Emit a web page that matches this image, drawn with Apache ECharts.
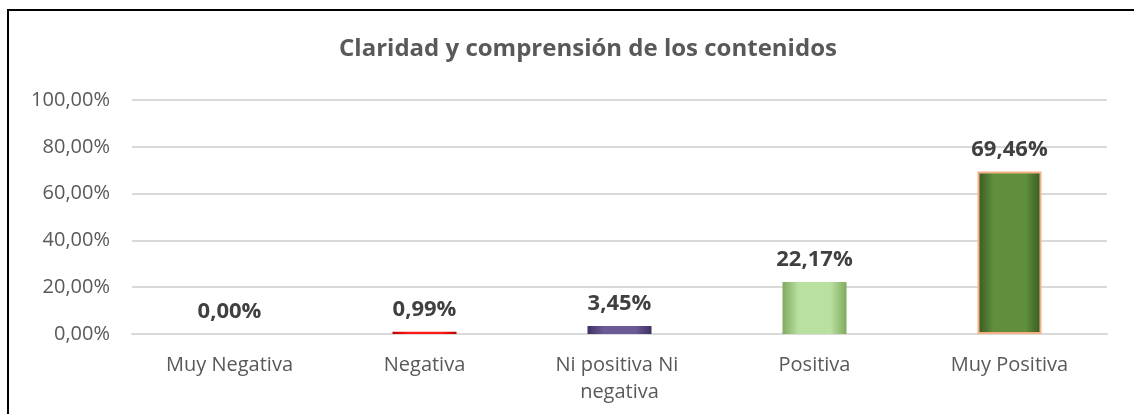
<!DOCTYPE html>
<html lang="es">
<head>
    <meta charset="UTF-8">
    <title>Claridad y comprensión de los contenidos</title>
    <script src="https://cdn.jsdelivr.net/npm/echarts@6/dist/echarts.min.js"></script>
    <style>
        html, body { margin: 0; padding: 0; background: #fff; }
        #container { width: 1134px; height: 414px; }
    </style>
</head>
<body>
<div id="container"></div>
<script>
    var categories = ['Muy Negativa', 'Negativa', 'Ni positiva Ni negativa', 'Positiva', 'Muy Positiva'];
    var values = [0.00, 0.99, 3.45, 22.17, 69.46];
    var yTicks = [0, 20, 40, 60, 80, 100];

    // colores de cada barra: [borde oscuro, centro claro]
    var barColors = [
        ['#7f7f7f', '#bfbfbf'],
        ['#c00000', '#ff1a1a'],
        ['#3f3163', '#6a5a96'],
        ['#7faa5e', '#b9e0a0'],
        ['#385723', '#5f8f3c']
    ];

    function fmt(v) {
        return v.toFixed(2).replace('.', ',') + '%';
    }

    var dom = document.getElementById('container');
    var myChart = echarts.init(dom);

    var data = values.map(function (v, i) {
        return {
            value: v,
            itemStyle: {
                color: new echarts.graphic.LinearGradient(0, 0, 1, 0, [
                    { offset: 0, color: barColors[i][0] },
                    { offset: 0.25, color: barColors[i][1] },
                    { offset: 0.75, color: barColors[i][1] },
                    { offset: 1, color: barColors[i][0] }
                ]),
                borderColor: i === 4 ? '#f4b183' : 'rgba(0,0,0,0)',
                borderWidth: i === 4 ? 2 : 0
            }
        };
    });

    var option = {
        animation: false,
        title: {
            text: 'Claridad y comprensión de los contenidos',
            left: 583,
            textAlign: 'center',
            top: 32,
            textStyle: {
                fontFamily: 'Open Sans',
                fontSize: 24,
                fontWeight: 'bold',
                color: '#595959'
            }
        },
        graphic: [{
            type: 'rect',
            shape: { x: 8, y: 10, width: 1140, height: 420 },
            style: { fill: 'none', stroke: '#000', lineWidth: 2 },
            silent: true
        }],
        grid: {
            left: 132,
            right: 27,
            top: 100,
            bottom: 80
        },
        xAxis: {
            type: 'category',
            data: categories,
            axisLine: { lineStyle: { color: '#d9d9d9', width: 2 } },
            axisTick: { show: false },
            axisLabel: {
                interval: 0,
                margin: 18,
                fontFamily: 'Open Sans',
                fontSize: 20,
                color: '#595959',
                lineHeight: 27,
                width: 180,
                overflow: 'break'
            }
        },
        yAxis: {
            type: 'value',
            min: yTicks[0],
            max: yTicks[yTicks.length - 1],
            interval: 20,
            axisLine: { show: false },
            axisTick: { show: false },
            splitLine: { lineStyle: { color: '#d9d9d9', width: 2 } },
            axisLabel: {
                margin: 22,
                fontFamily: 'Open Sans',
                fontSize: 20,
                color: '#595959',
                formatter: function (v) { return fmt(v); }
            }
        },
        series: [{
            type: 'bar',
            data: data,
            barWidth: 64,
            label: {
                show: true,
                position: 'top',
                distance: 11,
                fontFamily: 'Open Sans',
                fontSize: 22,
                fontWeight: 'bold',
                color: '#404040',
                formatter: function (p) { return fmt(p.value); }
            }
        }]
    };

    myChart.setOption(option);
</script>
</body>
</html>
